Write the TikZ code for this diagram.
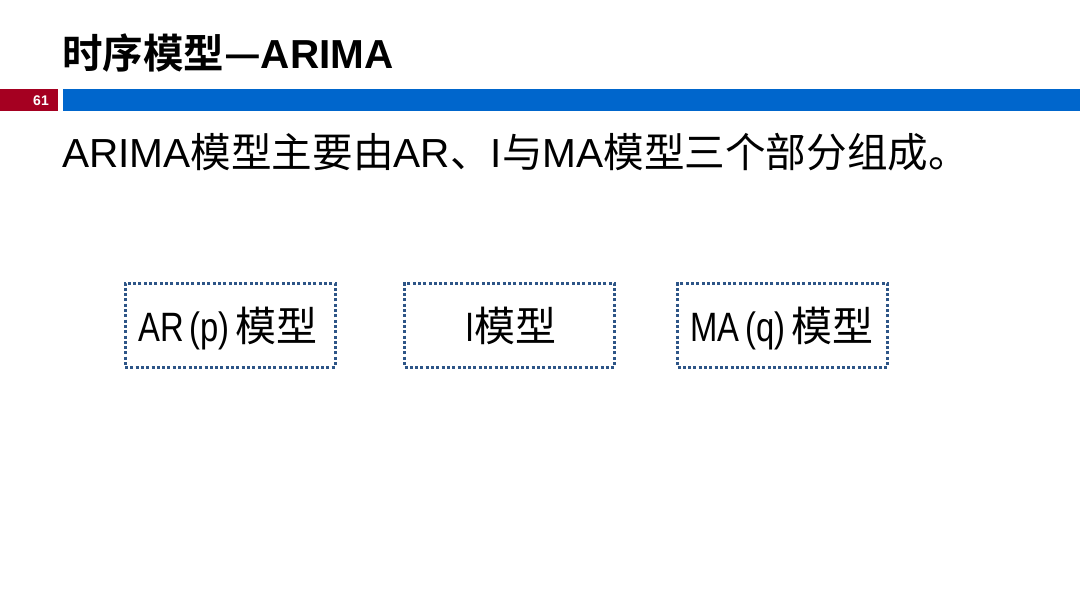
\documentclass[tikz,border=0pt]{standalone}
\usepackage{fontspec}
\newfontfamily\cjk{Noto Sans CJK SC}
\newfontfamily\cjkbold{Noto Sans CJK SC Bold}
\newfontfamily\latbold{Liberation Sans Bold}
\newfontfamily\lat{Liberation Sans}
\newfontfamily\boxlat{Liberation Sans}[FakeStretch=0.8]
\definecolor{barred}{RGB}{165,0,33}
\definecolor{barblue}{RGB}{0,102,204}
\definecolor{dotblue}{RGB}{45,85,135}
\tikzset{
  dotbox/.style={draw=dotblue, line width=3pt, dash pattern=on 3pt off 2.3pt,
    minimum width=210pt, minimum height=84pt, inner sep=0pt},
  boxtext/.style={font=\fontsize{41pt}{44pt}\selectfont\cjk, text=black},
}
\begin{document}
\begin{tikzpicture}[x=1pt,y=-1pt]
\useasboundingbox (0,0) rectangle (1080,608);
\fill[white] (0,0) rectangle (1080,608);
% title
\node[anchor=base west, inner sep=0pt] (title) at (62,68)
  {\fontsize{40.5pt}{42pt}\selectfont\cjkbold 时序模型—{\latbold ARIMA}};
% bars
\fill[barred] (0,89) rectangle (58,111);
\fill[barblue] (63,89) rectangle (1080,111);
\node[anchor=base east, inner sep=0pt, text=white] (pagenum) at (49,105)
  {\fontsize{14pt}{16pt}\selectfont\latbold 61};
% main sentence
\node[anchor=base west, inner sep=0pt] (lead) at (62,167)
  {\fontsize{40.6pt}{42pt}\selectfont\cjk {\lat ARIMA}模型主要由{\lat AR}、{\lat I}与{\lat MA}模型三个部分组成。};
% boxes
\node[dotbox] (ar) at (230,325) {};
\node[dotbox] (i) at (509.5,325) {};
\node[dotbox] (ma) at (782.5,325) {};
\node[boxtext, anchor=base] (artext) at (228,341) {{\boxlat AR\kern6pt(p)\kern6pt}模型};
\node[boxtext, anchor=base] (itext) at (511,341) {{\boxlat I}模型};
\node[boxtext, anchor=base] (matext) at (782,341) {{\boxlat MA\kern6pt(q)\kern6pt}模型};
\end{tikzpicture}
\end{document}
